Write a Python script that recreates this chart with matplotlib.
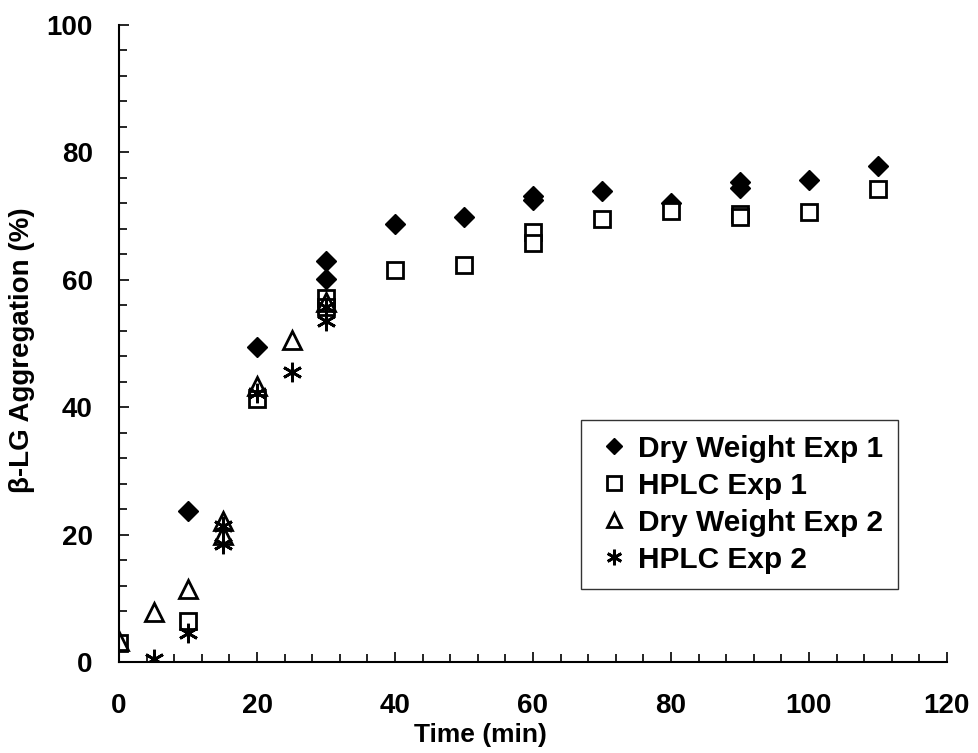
import matplotlib.pyplot as plt
from matplotlib.ticker import MultipleLocator

plt.rcParams['font.family'] = ['Liberation Sans', 'DejaVu Sans']
plt.rcParams['font.weight'] = 'bold'

# Dry Weight Exp 1
dw1_time = [10, 20, 30, 30, 40, 50, 60, 60, 70, 80, 90, 90, 100, 110]
dw1_agg = [23.7, 49.4, 63.0, 60.1, 68.8, 69.9, 72.6, 73.1, 73.9, 72.0, 75.3, 74.4, 75.7, 77.9]

# HPLC Exp 1
hp1_time = [0, 10, 20, 30, 30, 40, 50, 60, 60, 70, 80, 90, 90, 100, 110]
hp1_agg = [3.0, 6.4, 41.3, 57.2, 55.8, 61.5, 62.3, 67.5, 65.8, 69.5, 70.8, 70.4, 69.8, 70.6, 74.3]

# Dry Weight Exp 2
dw2_time = [0, 5, 10, 15, 15, 20, 25, 30]
dw2_agg = [3.3, 7.8, 11.5, 22.2, 20.0, 43.3, 50.6, 56.5]

# HPLC Exp 2
hp2_time = [5, 10, 15, 15, 20, 25, 30, 30]
hp2_agg = [0.5, 4.5, 21.3, 18.5, 42.3, 45.5, 55.8, 53.5]

fig = plt.figure(figsize=(9.79, 7.53), dpi=100)
ax = fig.add_axes([0.1216, 0.1208, 0.8456, 0.846])

ax.plot(dw1_time, dw1_agg, 'D', color='black', ms=10, label='Dry Weight Exp 1')
ax.plot(hp1_time, hp1_agg, 's', mfc='white', mec='black', mew=2, ms=12, label='HPLC Exp 1')
ax.plot(dw2_time, dw2_agg, '^', mfc='none', mec='black', mew=2, ms=13, label='Dry Weight Exp 2')
ax.plot(hp2_time, hp2_agg, marker=(6, 2, 0), ls='none', color='black', mew=2, ms=14, label='HPLC Exp 2')

ax.set_xlim(0, 120)
ax.set_ylim(0, 100)
ax.xaxis.set_major_locator(MultipleLocator(20))
ax.xaxis.set_minor_locator(MultipleLocator(4))
ax.yaxis.set_major_locator(MultipleLocator(20))
ax.yaxis.set_minor_locator(MultipleLocator(4))
ax.tick_params(which='both', direction='in', width=1.2, labelsize=20)
ax.tick_params(which='major', length=7)
ax.tick_params(which='minor', length=6)
ax.tick_params(axis='x', pad=22)
ax.tick_params(axis='y', pad=19)
ax.spines['top'].set_visible(False)
ax.spines['right'].set_visible(False)
ax.spines['left'].set_linewidth(1.5)
ax.spines['bottom'].set_linewidth(1.5)
for lab in ax.get_xticklabels() + ax.get_yticklabels():
    lab.set_fontweight('bold')

ax.set_xlabel('Time (min)', fontsize=19, fontweight='bold', labelpad=0)
ax.xaxis.set_label_coords(0.436, -0.096)
ax.set_ylabel('β-LG Aggregation (%)', fontsize=20, fontweight='bold')
ax.yaxis.set_label_coords(-0.102, 0.489)

leg = ax.legend(loc='upper left', bbox_to_anchor=(0.558, 0.380), fontsize=21.5,
                frameon=True, fancybox=False, edgecolor='black', borderpad=0.5,
                handletextpad=0.2, handlelength=1.2, labelspacing=0.3,
                borderaxespad=0, markerscale=0.8)
leg.get_frame().set_linewidth(1.0)
for t in leg.get_texts():
    t.set_fontweight('bold')

fig.savefig('out.png', dpi=100)
